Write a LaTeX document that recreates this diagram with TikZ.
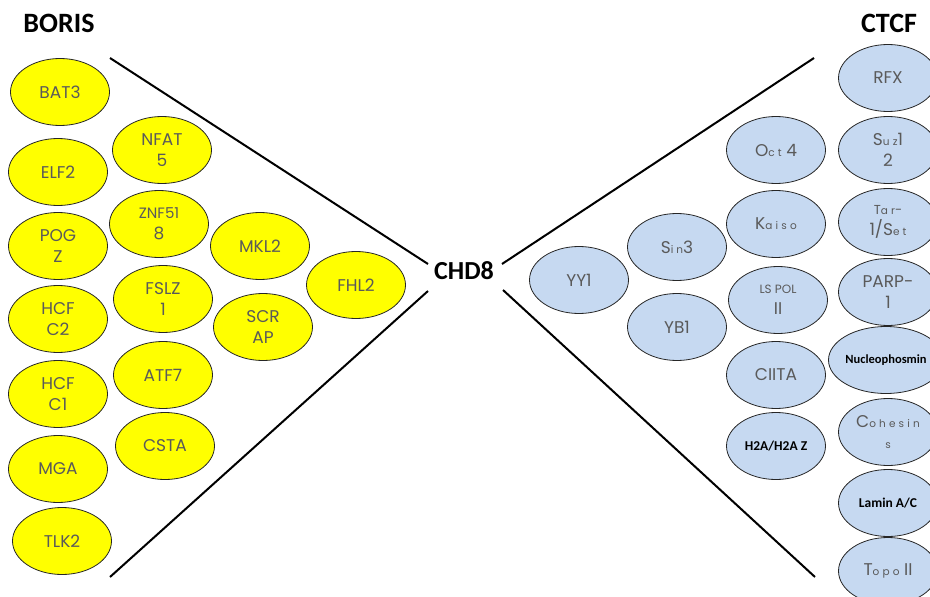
\documentclass[tikz,border=0pt]{standalone}
\usepackage{fontspec}
\setmainfont{Poppins}
\newfontfamily\calib{Carlito}
\usetikzlibrary{shapes.geometric}
\definecolor{ylw}{HTML}{FFFF00}
\definecolor{lblue}{HTML}{C6D9F1}
\definecolor{txt}{HTML}{5A5A5A}
\newcommand\smx[1]{{\fontsize{10.5}{12}\selectfont\addfontfeature{LetterSpace=30}#1}}
\tikzset{
  bub/.style={ellipse, draw=black!85, line width=0.8pt, minimum width=99pt, minimum height=67pt,
    inner sep=0pt, align=center, font=\fontsize{17}{21}\selectfont, text=txt},
  yb/.style={bub, fill=ylw},
  bb/.style={bub, fill=lblue},
  bld/.style={font=\calib\bfseries\fontsize{13.5}{16}\selectfont, text=black},
  ttl/.style={font=\calib\bfseries\fontsize{28}{32}\selectfont, text=black},
  sepline/.style={line width=2pt, black}
}
\begin{document}
\begin{tikzpicture}[x=1pt,y=-1pt]
\useasboundingbox (0,0) rectangle (930,597);
\clip (0,0) rectangle (930,597);

% titles
\node[ttl] (boris) at (59,23) {BORIS};
\node[ttl] (ctcf) at (889,23) {CTCF};
\node[ttl, font=\calib\bfseries\fontsize{26}{30}\selectfont] (chd8) at (464,271) {CHD8};

% separator lines
\coordinate (lt) at (110,58);
\coordinate (lb) at (110,577);
\coordinate (clt) at (428,264);
\coordinate (clb) at (428,291);
\coordinate (crt) at (502,264);
\coordinate (crb) at (503,290);
\coordinate (rt) at (814,58);
\coordinate (rb) at (815,577);
\draw[sepline] (lt) -- (clt);
\draw[sepline] (lb) -- (clb);
\draw[sepline] (crt) -- (rt);
\draw[sepline] (crb) -- (rb);

% BORIS column 1
\node[yb] (bat3) at (60,92) {BAT3};
\node[yb] (elf2) at (58,172) {ELF2};
\node[yb] (pogz) at (58,246) {POG\\Z};
\node[yb] (hcfc2) at (58,319) {HCF\\C2};
\node[yb] (hcfc1) at (58,394) {HCF\\C1};
\node[yb] (mga) at (58,469) {MGA};
\node[yb] (tlk2) at (62,541) {TLK2};
% column 2
\node[yb] (nfat5) at (162,150) {NFAT\\5};
\node[yb] (znf) at (159,224) {\fontsize{15}{19}\selectfont ZNF51\\8};
\node[yb] (fslz1) at (163,299) {FSLZ\\1};
\node[yb] (atf7) at (163,375) {ATF7};
\node[yb] (csta) at (165,446) {CSTA};
% column 3
\node[yb] (mkl2) at (260,246) {MKL2};
\node[yb] (scrap) at (263,327) {SCR\\AP};
\node[yb] (fhl2) at (356,285) {FHL2};

% CTCF side
\node[bb] (yy1) at (579,280) {YY1};
\node[bb] (sin3) at (677,247) {S\smx{in}3};
\node[bb] (yb1) at (677,327) {YB1};
\node[bb] (oct4) at (776,150) {O\smx{ct} 4};
\node[bb] (kaiso) at (776,224) {K\smx{aiso}};
\node[bb] (lspol) at (778,300) {\fontsize{12}{16}\selectfont LS POL\\II};
\node[bb] (ciita) at (776,375) {CIITA};
\node[bb, bld] (h2a) at (776,446) {H2A/H2A Z};

\node[bb] (rfx) at (888,78) {RFX};
\node[bb] (suz) at (888,150) {S\smx{uz}1\\2};
\node[bb] (tar) at (888,222) {\fontsize{13}{17}\selectfont T\smx{ar}-\\1/S\smx{et}};
\node[bb] (parp) at (888,292) {PARP-\\1};
\node[bb, bld, font=\calib\bfseries\fontsize{12.5}{15}\selectfont] (nucleo) at (886,360) {Nucleophosmin};
\node[bb] (cohesin) at (888,432) {C\smx{ohesin}\\\smx{s}};
\node[bb, bld] (lamin) at (888,503) {Lamin A/C};
\node[bb] (topo) at (888,571) {T\smx{opo} II};
\end{tikzpicture}
\end{document}
